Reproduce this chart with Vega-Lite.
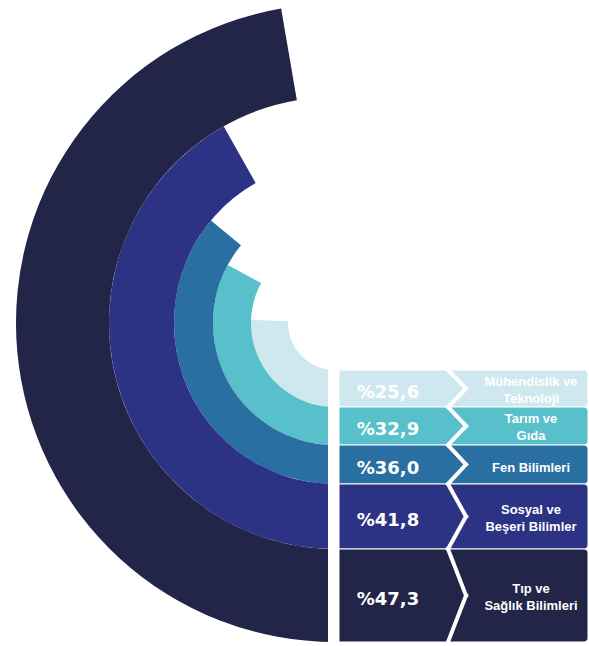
{
  "$schema": "https://vega.github.io/schema/vega-lite/v6.json",
  "width": 589,
  "height": 646,
  "autosize": {"type": "fit", "contains": "padding"},
  "padding": 0,
  "background": "white",
  "config": {
    "view": {"stroke": null},
    "locale": {"number": {"decimal": ",", "thousands": ".", "grouping": [3], "currency": ["%", ""]}}
  },
  "data": {
    "values": [
      {"alan": "Mühendislik ve Teknoloji", "etiket": "Mühendislik ve\nTeknoloji", "deger": 25.6, "ic": 0, "dis": 1},
      {"alan": "Tarım ve Gıda", "etiket": "Tarım ve\nGıda", "deger": 32.9, "ic": 1, "dis": 2},
      {"alan": "Fen Bilimleri", "etiket": "Fen Bilimleri", "deger": 36.0, "ic": 2, "dis": 3},
      {"alan": "Sosyal ve Beşeri Bilimler", "etiket": "Sosyal ve\nBeşeri Bilimler", "deger": 41.8, "ic": 3, "dis": 4},
      {"alan": "Tıp ve Sağlık Bilimleri", "etiket": "Tıp ve\nSağlık Bilimleri", "deger": 47.3, "ic": 4, "dis": 5}
    ]
  },
  "transform": [{"calculate": "(datum.ic + datum.dis) / 2", "as": "orta"}],
  "layer": [
    {
      "mark": {"type": "arc"},
      "encoding": {
        "x": {"datum": 0, "scale": {"type": "linear", "domain": [-335, 254], "nice": false, "zero": false}, "axis": null},
        "theta": {"field": "deger", "type": "quantitative", "stack": null, "scale": {"type": "linear", "domain": [0, 100], "range": [3.14159265, 9.42477796], "nice": false, "zero": false}},
        "theta2": {"datum": 0},
        "radius": {"field": "dis", "type": "quantitative", "scale": {"type": "linear", "domain": [0, 1, 2, 3, 4, 5], "range": [47, 84, 122, 161, 226, 319], "nice": false, "zero": false}},
        "radius2": {"field": "ic"},
        "color": {
          "field": "alan", "type": "nominal", "legend": null,
          "scale": {
            "domain": ["Mühendislik ve Teknoloji", "Tarım ve Gıda", "Fen Bilimleri", "Sosyal ve Beşeri Bilimler", "Tıp ve Sağlık Bilimleri"],
            "range": ["#cfe8ef", "#58c0ca", "#2a6fa2", "#2c3284", "#222448"]
          }
        }
      }
    },
    {
      "mark": {"type": "rect", "color": "white"},
      "encoding": {
        "x": {"datum": -7},
        "x2": {"datum": 4},
        "y": {"datum": 0, "axis": null},
        "y2": {"datum": 5}
      }
    },
    {
      "mark": {"type": "rect", "cornerRadiusTopRight": 4, "cornerRadiusBottomRight": 4, "stroke": "white", "strokeWidth": 1},
      "encoding": {
        "x": {"datum": 4},
        "x2": {"datum": 253},
        "y": {"field": "ic", "type": "quantitative", "axis": null, "scale": {"type": "linear", "domain": [0, 1, 2, 3, 4, 5], "range": [370, 407, 445, 484, 549, 642], "nice": false, "zero": false}},
        "y2": {"field": "dis"},
        "color": {"field": "alan", "type": "nominal", "legend": null}
      }
    },
    {
      "mark": {"type": "rule", "color": "white", "strokeWidth": 4, "strokeCap": "square"},
      "encoding": {
        "x": {"datum": 113},
        "x2": {"datum": 131},
        "y": {"field": "ic", "type": "quantitative"},
        "y2": {"field": "orta"}
      }
    },
    {
      "mark": {"type": "rule", "color": "white", "strokeWidth": 4, "strokeCap": "square"},
      "encoding": {
        "x": {"datum": 131},
        "x2": {"datum": 113},
        "y": {"field": "orta", "type": "quantitative"},
        "y2": {"field": "dis"}
      }
    },
    {
      "mark": {"type": "text", "font": "DejaVu Sans", "fontSize": 18, "fontWeight": "bold", "color": "white", "align": "center", "baseline": "middle", "dy": 4},
      "encoding": {
        "x": {"datum": 53},
        "y": {"field": "orta", "type": "quantitative"},
        "text": {"field": "deger", "type": "quantitative", "format": "$.1f"}
      }
    },
    {
      "transform": [{"filter": {"not": {"field": "alan", "equal": "Fen Bilimleri"}}}],
      "mark": {"type": "text", "font": "Liberation Sans", "fontSize": 13, "fontWeight": "bold", "color": "white", "align": "center", "baseline": "middle", "lineBreak": "\n", "lineHeight": 17, "dy": -7},
      "encoding": {
        "x": {"datum": 196},
        "y": {"field": "orta", "type": "quantitative"},
        "text": {"field": "etiket"}
      }
    },
    {
      "transform": [{"filter": {"field": "alan", "equal": "Fen Bilimleri"}}],
      "mark": {"type": "text", "font": "Liberation Sans", "fontSize": 13, "fontWeight": "bold", "color": "white", "align": "center", "baseline": "middle", "dy": 3},
      "encoding": {
        "x": {"datum": 196},
        "y": {"field": "orta", "type": "quantitative"},
        "text": {"field": "etiket"}
      }
    }
  ]
}
